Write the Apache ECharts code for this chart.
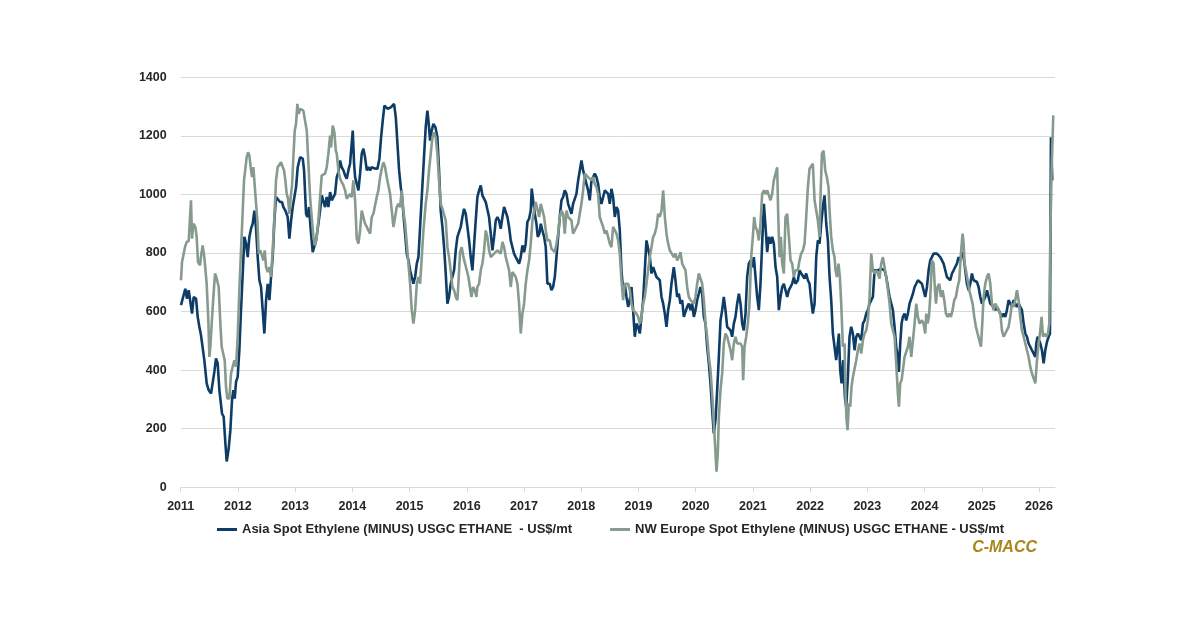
<!DOCTYPE html>
<html>
<head>
<meta charset="utf-8">
<script src="https://cdn.jsdelivr.net/npm/echarts@6/dist/echarts.min.js"></script>
<style>
html,body{margin:0;padding:0;background:#fff;}
#chart{width:1200px;height:627px;}
</style>
</head>
<body>
<div id="chart"></div>
<script>
// Series names
const seriesNames = [
  'Asia Spot Ethylene (MINUS) USGC ETHANE  - US$/mt',
  'NW Europe Spot Ethylene (MINUS) USGC ETHANE - US$/mt'
];
// Axis ticks
const yearTicks = [2011,2012,2013,2014,2015,2016,2017,2018,2019,2020,2021,2022,2023,2024,2025,2026];
const valueTicks = [0,200,400,600,800,1000,1200,1400];

// [decimal year, US$/mt]
const asiaData = [
[2011.005,622],[2011.035,644],[2011.081,678],[2011.110,644],[2011.140,673],[2011.169,678],[2011.198,593],[2011.227,650],[2011.268,644],[2011.297,582],[2011.326,548],[2011.355,519],[2011.384,514],[2011.413,434],[2011.454,355],[2011.489,332],[2011.530,320],[2011.559,315],[2011.588,394],[2011.617,440],[2011.646,423],[2011.676,332],[2011.722,252],[2011.751,241],[2011.781,150],[2011.804,88],[2011.839,133],[2011.868,195],[2011.897,298],[2011.920,332],[2011.944,303],[2011.967,360],[2011.996,377],
[2012.025,468],[2012.054,605],[2012.084,730],[2012.113,855],[2012.142,832],[2012.171,786],[2012.200,855],[2012.229,883],[2012.258,900],[2012.288,945],[2012.317,883],[2012.346,786],[2012.375,707],[2012.404,684],[2012.433,605],[2012.462,525],[2012.492,639],[2012.521,695],[2012.550,639],[2012.579,718],[2012.608,786],[2012.637,911],[2012.666,991],[2012.695,985],[2012.736,974],[2012.771,974],[2012.795,957],[2012.829,945],[2012.870,923],[2012.899,849],[2012.929,911],[2012.958,957],[2012.987,951],
[2013.016,1025],[2013.045,1093],[2013.086,1127],[2013.133,1122],[2013.156,1082],[2013.191,934],[2013.214,923],[2013.243,957],[2013.273,877],[2013.307,803],[2013.337,803],[2013.366,843],[2013.406,900],[2013.436,945],[2013.465,997],[2013.494,991],[2013.523,957],[2013.552,991],[2013.581,957],[2013.611,1008],[2013.640,980],[2013.669,991],[2013.698,1002],[2013.727,1059],[2013.756,1076],[2013.785,1116],[2013.814,1093],[2013.844,1082],[2013.873,1065],[2013.902,1054],[2013.931,1082],[2013.960,1105],[2013.989,1110],
[2014.007,1218],[2014.030,1105],[2014.048,1059],[2014.077,1036],[2014.106,1014],[2014.135,1071],[2014.164,1139],[2014.193,1156],[2014.222,1127],[2014.252,1082],[2014.281,1093],[2014.310,1082],[2014.339,1093],[2014.368,1093],[2014.397,1088],[2014.438,1088],[2014.473,1122],[2014.502,1195],[2014.531,1252],[2014.560,1303],[2014.590,1298],[2014.619,1292],[2014.648,1289],[2014.677,1298],[2014.700,1303],[2014.729,1309],[2014.759,1264],[2014.788,1173],[2014.817,1082],[2014.846,1025],[2014.869,991],[2014.892,934],[2014.922,866],[2014.951,798],[2014.980,775],
[2015.009,741],[2015.038,718],[2015.067,695],[2015.097,718],[2015.126,764],[2015.155,786],[2015.184,889],[2015.213,991],[2015.242,1093],[2015.282,1230],[2015.311,1286],[2015.335,1241],[2015.358,1184],[2015.387,1218],[2015.416,1241],[2015.451,1230],[2015.486,1195],[2015.515,1082],[2015.544,945],[2015.574,889],[2015.603,820],[2015.632,730],[2015.661,627],[2015.690,650],[2015.719,695],[2015.748,718],[2015.778,741],[2015.807,809],[2015.836,855],[2015.865,872],[2015.894,889],[2015.923,923],[2015.952,951],[2015.981,934],
[2016.011,889],[2016.040,843],[2016.069,786],[2016.098,741],[2016.127,741],[2016.156,911],[2016.185,991],[2016.215,1014],[2016.244,1031],[2016.273,997],[2016.302,991],[2016.331,974],[2016.360,968],[2016.389,923],[2016.419,866],[2016.448,809],[2016.477,855],[2016.506,911],[2016.535,923],[2016.564,911],[2016.593,883],[2016.623,923],[2016.652,957],[2016.681,957],[2016.710,923],[2016.739,889],[2016.768,843],[2016.797,820],[2016.826,798],[2016.856,786],[2016.885,775],[2016.914,764],[2016.943,786],[2016.972,826],
[2017.001,803],[2017.030,832],[2017.059,906],[2017.089,917],[2017.118,945],[2017.135,1020],[2017.164,1020],[2017.188,934],[2017.217,900],[2017.240,855],[2017.269,866],[2017.293,900],[2017.322,877],[2017.351,855],[2017.380,820],[2017.409,695],[2017.450,695],[2017.479,673],[2017.508,684],[2017.538,718],[2017.567,786],[2017.596,855],[2017.625,923],[2017.654,980],[2017.683,991],[2017.712,1014],[2017.742,1002],[2017.771,968],[2017.800,968],[2017.829,934],[2017.858,968],[2017.887,968],[2017.916,1002],[2017.946,1048],[2017.975,1082],
[2018.004,1116],[2018.033,1082],[2018.062,1082],[2018.091,1036],[2018.120,1014],[2018.149,980],[2018.179,1048],[2018.208,1059],[2018.237,1071],[2018.266,1059],[2018.295,1036],[2018.324,991],[2018.353,968],[2018.383,974],[2018.412,1014],[2018.441,1008],[2018.470,1002],[2018.499,968],[2018.528,1019],[2018.557,991],[2018.587,923],[2018.616,957],[2018.645,945],[2018.674,877],[2018.703,741],[2018.732,673],[2018.761,695],[2018.791,650],[2018.820,616],[2018.849,639],[2018.878,684],[2018.907,605],[2018.936,514],[2018.965,559],[2018.995,548],
[2019.024,525],[2019.053,582],[2019.082,639],[2019.111,741],[2019.140,843],[2019.169,849],[2019.199,786],[2019.228,730],[2019.257,752],[2019.286,752],[2019.315,718],[2019.344,724],[2019.373,707],[2019.403,650],[2019.432,627],[2019.461,593],[2019.490,548],[2019.519,605],[2019.548,639],[2019.577,695],[2019.618,752],[2019.647,707],[2019.676,650],[2019.706,661],[2019.735,627],[2019.764,639],[2019.793,582],[2019.822,576],[2019.851,616],[2019.880,627],[2019.910,605],[2019.939,627],[2019.968,582],[2019.997,605],
[2020.026,639],[2020.055,661],[2020.084,684],[2020.114,661],[2020.143,582],[2020.172,559],[2020.201,480],[2020.230,423],[2020.259,355],[2020.288,264],[2020.317,184],[2020.347,230],[2020.376,332],[2020.405,445],[2020.434,570],[2020.463,605],[2020.492,650],[2020.521,605],[2020.551,548],[2020.580,548],[2020.609,536],[2020.638,514],[2020.667,559],[2020.696,582],[2020.725,627],[2020.755,661],[2020.784,627],[2020.813,559],[2020.842,536],[2020.871,593],[2020.900,718],[2020.929,764],[2020.959,775],[2020.988,752],
[2021.017,786],[2021.046,718],[2021.075,650],[2021.104,605],[2021.133,695],[2021.162,832],[2021.192,968],[2021.221,889],[2021.250,803],[2021.279,855],[2021.308,832],[2021.337,855],[2021.366,832],[2021.396,752],[2021.425,718],[2021.454,605],[2021.483,650],[2021.512,684],[2021.541,695],[2021.570,695],[2021.600,650],[2021.629,673],[2021.658,673],[2021.687,695],[2021.716,718],[2021.745,695],[2021.786,707],[2021.815,741],[2021.844,730],[2021.874,735],[2021.903,713],[2021.932,730],[2021.961,707],[2021.990,695],
[2022.019,639],[2022.048,593],[2022.078,627],[2022.107,786],[2022.136,843],[2022.165,832],[2022.194,900],[2022.223,957],[2022.252,997],[2022.282,900],[2022.311,843],[2022.340,718],[2022.369,639],[2022.398,525],[2022.427,480],[2022.456,434],[2022.485,434],[2022.503,525],[2022.526,400],[2022.550,355],[2022.579,434],[2022.608,309],[2022.631,275],[2022.660,377],[2022.689,514],[2022.718,548],[2022.748,525],[2022.777,468],[2022.806,514],[2022.835,525],[2022.864,514],[2022.893,502],[2022.923,559],[2022.952,570],[2022.981,593],
[2023.010,605],[2023.039,627],[2023.068,627],[2023.097,650],[2023.127,741],[2023.156,747],[2023.185,741],[2023.214,741],[2023.243,747],[2023.272,752],[2023.301,741],[2023.331,718],[2023.360,684],[2023.389,650],[2023.418,627],[2023.447,605],[2023.476,548],[2023.505,480],[2023.534,445],[2023.552,394],[2023.575,491],[2023.599,559],[2023.622,582],[2023.651,593],[2023.680,570],[2023.709,593],[2023.738,627],[2023.768,627],[2023.797,661],[2023.826,684],[2023.855,695],[2023.884,707],[2023.913,707],[2023.954,695],[2023.983,673],
[2024.012,650],[2024.042,684],[2024.071,741],[2024.100,775],[2024.129,786],[2024.158,798],[2024.187,803],[2024.216,798],[2024.246,792],[2024.275,786],[2024.304,781],[2024.333,764],[2024.362,741],[2024.391,718],[2024.420,718],[2024.450,707],[2024.479,730],[2024.508,741],[2024.537,741],[2024.566,764],[2024.595,786],[2024.624,775],[2024.653,803],[2024.683,786],[2024.712,741],[2024.741,695],[2024.770,673],[2024.799,695],[2024.828,730],[2024.857,707],[2024.887,707],[2024.916,701],[2024.945,684],[2024.974,650],
[2025.003,627],[2025.032,639],[2025.061,650],[2025.091,673],[2025.120,650],[2025.149,627],[2025.178,627],[2025.207,616],[2025.236,605],[2025.265,616],[2025.295,605],[2025.324,593],[2025.353,582],[2025.382,593],[2025.411,582],[2025.440,605],[2025.469,639],[2025.498,627],[2025.528,616],[2025.557,639],[2025.586,627],[2025.615,616],[2025.644,627],[2025.673,616],[2025.702,605],[2025.732,559],[2025.761,525],[2025.790,514],[2025.819,491],[2025.848,480],[2025.877,468],[2025.906,457],[2025.936,445],[2025.953,491],[2025.976,514],
[2026.000,514],[2026.023,491],[2026.052,468],[2026.081,423],[2026.110,468],[2026.140,497],[2026.169,514],[2026.192,525],[2026.209,1195],[2026.233,1048]
];

const europeData = [
[2011.005,707],[2011.023,769],[2011.046,775],[2011.075,820],[2011.105,838],[2011.140,841],[2011.163,843],[2011.180,980],[2011.198,849],[2011.221,900],[2011.256,889],[2011.279,855],[2011.303,769],[2011.338,758],[2011.361,798],[2011.384,826],[2011.413,786],[2011.454,695],[2011.483,570],[2011.501,445],[2011.518,480],[2011.542,559],[2011.571,650],[2011.600,730],[2011.629,713],[2011.664,684],[2011.693,559],[2011.716,480],[2011.746,480],[2011.769,434],[2011.792,343],[2011.815,303],[2011.850,303],[2011.880,389],[2011.909,383],[2011.938,434],[2011.967,411],[2011.996,514],
[2012.025,673],[2012.054,809],[2012.084,945],[2012.107,1048],[2012.130,1042],[2012.153,1127],[2012.177,1144],[2012.200,1133],[2012.223,1093],[2012.247,1059],[2012.270,1093],[2012.293,1031],[2012.317,1025],[2012.340,911],[2012.363,798],[2012.392,809],[2012.422,803],[2012.445,775],[2012.468,809],[2012.492,752],[2012.521,735],[2012.550,752],[2012.579,718],[2012.608,809],[2012.637,923],[2012.666,1048],[2012.695,1093],[2012.724,1099],[2012.753,1110],[2012.783,1110],[2012.806,1082],[2012.829,1048],[2012.853,1002],[2012.876,985],[2012.899,934],[2012.923,991],[2012.946,1031],[2012.969,1127],[2012.993,1218],
[2013.016,1241],[2013.039,1309],[2013.063,1275],[2013.086,1292],[2013.115,1286],[2013.144,1286],[2013.173,1252],[2013.203,1218],[2013.232,1105],[2013.261,991],[2013.290,923],[2013.319,855],[2013.348,826],[2013.377,855],[2013.406,911],[2013.436,991],[2013.465,1065],[2013.494,1065],[2013.523,1071],[2013.552,1093],[2013.581,1139],[2013.611,1201],[2013.628,1161],[2013.657,1235],[2013.686,1212],[2013.710,1150],[2013.727,1139],[2013.756,1082],[2013.785,1054],[2013.814,1042],[2013.844,1031],[2013.873,1014],[2013.902,985],[2013.931,991],[2013.960,1002],[2013.989,991],
[2014.018,1048],[2014.048,980],[2014.077,849],[2014.106,832],[2014.135,877],[2014.164,945],[2014.193,945],[2014.222,900],[2014.252,889],[2014.281,877],[2014.310,866],[2014.339,923],[2014.368,934],[2014.397,929],[2014.426,991],[2014.455,1014],[2014.485,1059],[2014.514,1088],[2014.543,1110],[2014.572,1093],[2014.601,1059],[2014.630,1054],[2014.659,1002],[2014.689,945],[2014.718,889],[2014.747,889],[2014.776,957],[2014.805,968],[2014.834,957],[2014.863,1014],[2014.892,945],[2014.922,900],[2014.951,832],[2014.980,764],
[2015.009,695],[2015.038,605],[2015.067,559],[2015.097,605],[2015.126,695],[2015.155,718],[2015.184,695],[2015.213,786],[2015.242,877],[2015.282,968],[2015.311,1014],[2015.340,1082],[2015.370,1139],[2015.399,1195],[2015.428,1212],[2015.457,1195],[2015.486,1139],[2015.515,1048],[2015.544,968],[2015.574,951],[2015.603,951],[2015.632,911],[2015.661,820],[2015.690,786],[2015.719,741],[2015.748,684],[2015.778,673],[2015.807,650],[2015.836,639],[2015.853,695],[2015.882,803],[2015.912,820],[2015.941,786],[2015.970,764],[2015.999,741],
[2016.028,718],[2016.057,718],[2016.081,650],[2016.110,684],[2016.139,673],[2016.168,650],[2016.185,684],[2016.215,695],[2016.244,741],[2016.273,764],[2016.302,809],[2016.331,877],[2016.360,855],[2016.389,809],[2016.419,786],[2016.448,781],[2016.477,798],[2016.506,803],[2016.535,809],[2016.564,803],[2016.593,798],[2016.623,838],[2016.652,820],[2016.681,786],[2016.710,764],[2016.739,741],[2016.768,684],[2016.797,735],[2016.826,741],[2016.856,718],[2016.885,695],[2016.914,627],[2016.943,525],[2016.972,593],
[2017.001,627],[2017.030,695],[2017.059,741],[2017.089,775],[2017.118,832],[2017.147,911],[2017.176,945],[2017.205,974],[2017.234,968],[2017.264,923],[2017.293,968],[2017.322,968],[2017.351,923],[2017.380,877],[2017.409,843],[2017.450,843],[2017.479,815],[2017.508,809],[2017.538,803],[2017.567,832],[2017.596,866],[2017.625,923],[2017.654,945],[2017.683,934],[2017.712,866],[2017.742,945],[2017.771,923],[2017.800,923],[2017.829,911],[2017.858,866],[2017.887,877],[2017.916,889],[2017.946,900],[2017.975,934],
[2018.004,968],[2018.033,1014],[2018.062,1071],[2018.091,1076],[2018.120,1059],[2018.149,1054],[2018.179,1048],[2018.208,1059],[2018.237,1036],[2018.266,1025],[2018.295,1002],[2018.324,923],[2018.353,906],[2018.383,889],[2018.412,866],[2018.441,877],[2018.470,855],[2018.499,832],[2018.528,820],[2018.557,889],[2018.587,889],[2018.616,866],[2018.645,843],[2018.674,798],[2018.703,707],[2018.732,639],[2018.761,695],[2018.791,695],[2018.820,695],[2018.849,673],[2018.878,627],[2018.907,605],[2018.936,605],[2018.965,593],[2018.995,582],
[2019.024,559],[2019.053,582],[2019.082,627],[2019.111,650],[2019.140,695],[2019.169,741],[2019.199,786],[2019.228,820],[2019.257,855],[2019.286,866],[2019.315,889],[2019.344,934],[2019.373,923],[2019.403,945],[2019.432,1014],[2019.461,923],[2019.490,866],[2019.519,832],[2019.548,809],[2019.577,803],[2019.618,786],[2019.647,798],[2019.676,775],[2019.706,786],[2019.735,803],[2019.764,764],[2019.793,769],[2019.822,741],[2019.851,684],[2019.880,650],[2019.910,639],[2019.939,639],[2019.968,627],[2019.997,650],
[2020.026,695],[2020.055,730],[2020.084,724],[2020.114,695],[2020.143,639],[2020.172,559],[2020.201,514],[2020.230,445],[2020.259,400],[2020.288,320],[2020.317,218],[2020.347,116],[2020.364,53],[2020.387,116],[2020.405,241],[2020.434,332],[2020.463,389],[2020.492,491],[2020.521,525],[2020.551,514],[2020.580,491],[2020.609,468],[2020.638,434],[2020.667,491],[2020.696,514],[2020.725,491],[2020.755,485],[2020.784,491],[2020.813,480],[2020.830,366],[2020.854,480],[2020.883,514],[2020.912,559],[2020.941,627],[2020.970,786],[2020.999,855],
[2021.023,923],[2021.046,889],[2021.075,877],[2021.104,843],[2021.133,900],[2021.162,1002],[2021.192,1014],[2021.221,1002],[2021.250,1014],[2021.279,1014],[2021.308,980],[2021.337,1002],[2021.366,1048],[2021.396,1048],[2021.425,1093],[2021.442,934],[2021.466,786],[2021.489,855],[2021.512,764],[2021.541,730],[2021.570,923],[2021.600,934],[2021.629,855],[2021.658,775],[2021.687,764],[2021.716,718],[2021.745,741],[2021.786,741],[2021.815,775],[2021.844,798],[2021.874,809],[2021.903,832],[2021.932,923],[2021.961,1025],[2021.990,1088],
[2022.019,1093],[2022.048,1105],[2022.078,980],[2022.107,945],[2022.136,911],[2022.165,855],[2022.182,991],[2022.206,1139],[2022.235,1150],[2022.264,1082],[2022.293,1059],[2022.322,1025],[2022.340,945],[2022.369,855],[2022.398,809],[2022.427,786],[2022.445,741],[2022.468,718],[2022.497,764],[2022.520,718],[2022.544,627],[2022.573,480],[2022.602,491],[2022.620,309],[2022.637,230],[2022.654,195],[2022.678,286],[2022.701,275],[2022.724,343],[2022.748,377],[2022.777,377],[2022.806,434],[2022.835,468],[2022.864,491],[2022.893,457],[2022.923,502],[2022.952,525],[2022.981,536],
[2023.010,570],[2023.039,650],[2023.068,798],[2023.097,741],[2023.127,730],[2023.156,741],[2023.185,730],[2023.214,713],[2023.243,764],[2023.272,786],[2023.301,786],[2023.331,718],[2023.360,673],[2023.389,627],[2023.418,559],[2023.447,559],[2023.476,514],[2023.505,423],[2023.534,320],[2023.552,275],[2023.575,355],[2023.599,366],[2023.622,400],[2023.651,445],[2023.680,445],[2023.709,480],[2023.738,514],[2023.768,445],[2023.797,445],[2023.826,559],[2023.855,627],[2023.884,582],[2023.913,559],[2023.954,570],[2023.983,559],
[2024.012,525],[2024.030,593],[2024.053,559],[2024.077,582],[2024.100,650],[2024.129,775],[2024.158,764],[2024.176,695],[2024.199,627],[2024.228,684],[2024.257,695],[2024.286,650],[2024.315,673],[2024.345,639],[2024.374,593],[2024.403,582],[2024.432,593],[2024.461,582],[2024.490,605],[2024.519,639],[2024.549,650],[2024.578,684],[2024.607,707],[2024.636,798],[2024.665,866],[2024.683,832],[2024.700,764],[2024.723,741],[2024.753,707],[2024.782,673],[2024.811,650],[2024.840,627],[2024.869,582],[2024.898,548],[2024.927,525],[2024.957,502],[2024.986,480],
[2025.009,559],[2025.032,650],[2025.061,695],[2025.091,718],[2025.120,730],[2025.149,695],[2025.178,627],[2025.207,605],[2025.236,627],[2025.265,616],[2025.295,605],[2025.324,593],[2025.353,536],[2025.382,514],[2025.411,525],[2025.440,525],[2025.469,548],[2025.498,582],[2025.528,627],[2025.557,616],[2025.586,639],[2025.615,673],[2025.644,639],[2025.673,582],[2025.702,536],[2025.732,514],[2025.761,491],[2025.790,468],[2025.819,445],[2025.848,411],[2025.877,389],[2025.906,389],[2025.936,355],[2025.965,434],[2025.994,491],
[2026.023,536],[2026.046,582],[2026.070,514],[2026.099,525],[2026.128,514],[2026.157,525],[2026.180,559],[2026.198,855],[2026.221,1082],[2026.250,1270]
];

const FONT = "'Liberation Sans', Arial, sans-serif";
const chart = echarts.init(document.getElementById('chart'), null, {renderer: 'canvas'});
chart.setOption({
  animation: false,
  backgroundColor: '#ffffff',
  grid: {left: 180.7, right: 145, top: 77.3, bottom: 139.7, containLabel: false},
  xAxis: {
    type: 'value',
    min: yearTicks[0],
    max: 2026.28,
    interval: 1,
    axisLine: {show: true, lineStyle: {color: '#d9d9d9', width: 1}},
    axisTick: {show: true, length: 5, lineStyle: {color: '#d9d9d9'}},
    splitLine: {show: false},
    axisLabel: {
      color: '#262626', fontFamily: FONT, fontWeight: 'bold', fontSize: 12.5, margin: 13,
      showMaxLabel: false,
      formatter: v => yearTicks.includes(Math.round(v * 1000) / 1000) ? String(v) : ''
    }
  },
  yAxis: {
    type: 'value',
    min: valueTicks[0],
    max: valueTicks[valueTicks.length - 1],
    interval: 200,
    axisLine: {show: false},
    axisTick: {show: false},
    splitLine: {show: true, lineStyle: {color: '#d9d9d9', width: 1}},
    axisLabel: {color: '#262626', fontFamily: FONT, fontWeight: 'bold', fontSize: 12.5, margin: 14,
      formatter: v => String(v)}
  },
  legend: {
    data: seriesNames,
    left: 212,
    top: 518,
    itemGap: 38,
    itemWidth: 20,
    itemHeight: 3,
    icon: 'rect',
    textStyle: {color: '#262626', fontFamily: FONT, fontWeight: 'bold', fontSize: 13}
  },
  series: [
    {name: seriesNames[0], type: 'line', data: asiaData, showSymbol: false, symbol: 'none',
     lineStyle: {color: '#0d3c66', width: 2.6}, itemStyle: {color: '#0d3c66'}},
    {name: seriesNames[1], type: 'line', data: europeData, showSymbol: false, symbol: 'none',
     lineStyle: {color: '#879a8e', width: 2.6}, itemStyle: {color: '#879a8e'}}
  ],
  graphic: [{
    type: 'text', right: 163, top: 540,
    style: {text: 'C-MACC', fill: '#a8861c', font: "italic bold 16px 'Liberation Sans', Arial, sans-serif"}
  }]
});
</script>
</body>
</html>
